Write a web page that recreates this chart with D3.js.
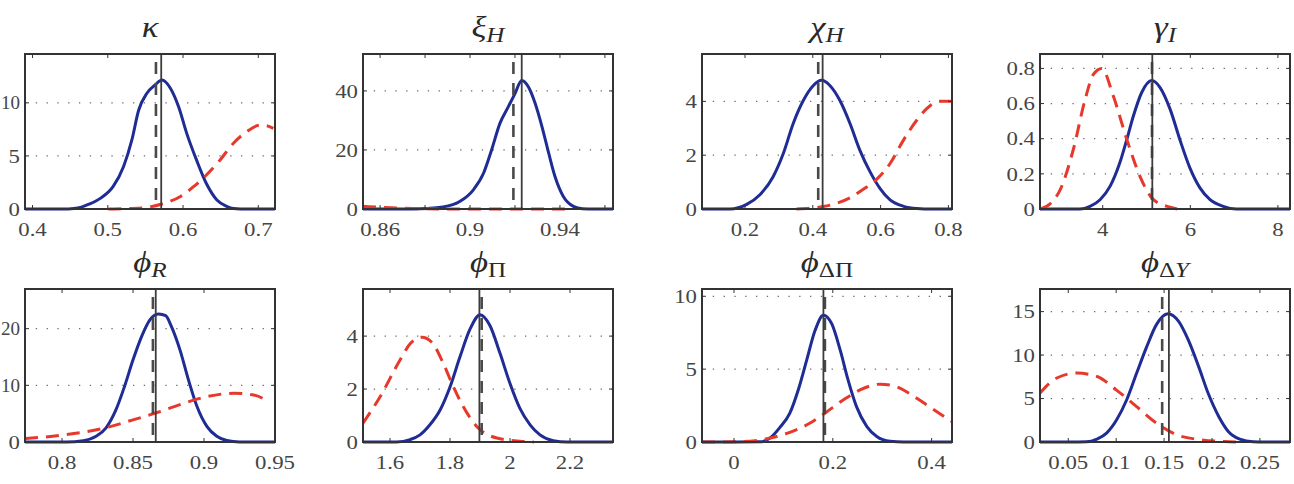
<!DOCTYPE html>
<html><head><meta charset="utf-8">
<script src="https://cdn.jsdelivr.net/npm/d3@7"></script>
<style>body{margin:0;background:#fff}svg{display:block}
text{font-family:"Liberation Serif","Tinos","Times New Roman","DejaVu Serif",serif}</style>
</head><body>
<svg id="c" width="1294" height="484"></svg>
<script>
// ---------- data ----------
const titles = [
  [{t:"κ",it:1}],
  [{t:"ξ",it:1},{t:"H",it:1,sub:1}],
  [{t:"χ",it:1},{t:"H",it:1,sub:1}],
  [{t:"γ",it:1},{t:"I",it:1,sub:1}],
  [{t:"ϕ",it:1},{t:"R",it:1,sub:1}],
  [{t:"ϕ",it:1},{t:"Π",sub:1}],
  [{t:"ϕ",it:1},{t:"ΔΠ",sub:1}],
  [{t:"ϕ",it:1},{t:"Δ",sub:1},{t:"Y",it:1,sub:1}]
];
const xLimits = [[0.390,0.7222],[0.8524,0.9636],[0.0732,0.8106],[2.568,8.276],
                 [0.7739,0.950],[1.51,2.3433],[-0.0648,0.4413],[0.0205,0.2814]];
const yLimits = [[0,14.6],[0,52.5],[0,5.76],[0,0.882],[0,27.0],[0,5.78],[0,10.5],[0,17.6]];
const xTickLabels = [["0.4","0.5","0.6","0.7"],["0.86","0.9","0.94"],["0.2","0.4","0.6","0.8"],["4","6","8"],
                     ["0.8","0.85","0.9","0.95"],["1.6","1.8","2","2.2"],["0","0.2","0.4"],["0.05","0.1","0.15","0.2","0.25"]];
const xMinorTicks = [[],[0.88,0.92,0.96],[],[],[],[],[],[]];
const yTickLabels = [["0","5","10"],["0","20","40"],["0","2","4"],["0","0.2","0.4","0.6","0.8"],
                     ["0","10","20"],["0","2","4"],["0","5","10"],["0","5","10","15"]];
const posterior = [
  [[0.390,0],[0.44,0],[0.455,0.05],[0.465,0.18],[0.475,0.45],[0.490,1.0],[0.507,2.1],[0.521,4.0],[0.532,6.5],[0.541,9.3],[0.552,10.9],[0.563,11.7],[0.572,12.15],[0.583,11.4],[0.594,9.65],[0.605,7.1],[0.618,4.6],[0.631,2.4],[0.645,0.85],[0.658,0.25],[0.667,0.05],[0.685,0],[0.7222,0]],
  [[0.8524,0],[0.870,0],[0.878,0.1],[0.888,0.7],[0.8956,2.6],[0.9015,6.5],[0.906,12.1],[0.9096,20.0],[0.9133,29.0],[0.917,34.6],[0.920,39.1],[0.923,43.5],[0.926,41.3],[0.929,35.7],[0.932,27.9],[0.935,18.9],[0.9378,11.0],[0.9415,4.25],[0.946,0.9],[0.950,0.1],[0.955,0],[0.9636,0]],
  [[0.0732,0],[0.156,0],[0.205,0.17],[0.244,0.53],[0.283,1.2],[0.313,2.06],[0.342,3.17],[0.372,4.03],[0.401,4.58],[0.426,4.78],[0.451,4.58],[0.480,4.03],[0.510,3.17],[0.539,2.18],[0.569,1.38],[0.598,0.77],[0.628,0.34],[0.668,0.1],[0.707,0.02],[0.75,0],[0.8106,0]],
  [[2.568,0],[3.48,0],[3.71,0.015],[3.94,0.053],[4.17,0.13],[4.39,0.263],[4.55,0.396],[4.70,0.529],[4.89,0.663],[5.12,0.731],[5.31,0.691],[5.54,0.567],[5.76,0.396],[5.99,0.234],[6.22,0.12],[6.45,0.053],[6.75,0.015],[7.05,0],[8.276,0]],
  [[0.7739,0],[0.803,0],[0.815,0.23],[0.824,1.0],[0.831,2.5],[0.838,5.7],[0.844,9.8],[0.850,14.5],[0.856,18.6],[0.862,21.6],[0.868,22.6],[0.873,22.3],[0.877,20.4],[0.883,16.3],[0.889,11.0],[0.895,6.3],[0.902,2.75],[0.909,1.0],[0.916,0.25],[0.925,0],[0.950,0]],
  [[1.51,0],[1.622,0],[1.667,0.09],[1.70,0.27],[1.733,0.65],[1.767,1.21],[1.80,2.08],[1.833,3.21],[1.867,4.27],[1.90,4.81],[1.933,4.40],[1.967,3.34],[2.0,2.21],[2.033,1.27],[2.067,0.65],[2.10,0.27],[2.144,0.05],[2.19,0],[2.3433,0]],
  [[-0.0648,0],[0.0,0],[0.053,0.01],[0.073,0.27],[0.093,1.0],[0.113,1.98],[0.130,3.57],[0.147,5.6],[0.164,7.65],[0.181,8.7],[0.198,8.1],[0.215,6.3],[0.231,4.25],[0.248,2.43],[0.269,1.06],[0.289,0.38],[0.316,0.05],[0.343,0],[0.4413,0]],
  [[0.0205,0],[0.052,0],[0.069,0.02],[0.080,0.34],[0.090,1.03],[0.1005,2.56],[0.111,4.86],[0.1214,7.93],[0.132,11.0],[0.142,13.5],[0.154,14.75],[0.165,13.9],[0.175,11.8],[0.186,8.7],[0.196,5.6],[0.207,2.94],[0.217,1.22],[0.229,0.34],[0.243,0.03],[0.255,0],[0.2814,0]]
];
const prior = [
  [[0.5007,0],[0.534,0.05],[0.552,0.15],[0.572,0.47],[0.596,1.16],[0.614,2.1],[0.631,3.2],[0.649,4.6],[0.667,6.2],[0.685,7.3],[0.702,7.9],[0.711,7.85],[0.720,7.6]],
  [[0.8524,0.9],[0.86,0.6],[0.87,0.25],[0.88,0.08],[0.89,0.02],[0.90,0],[0.945,0]],
  [[0.352,0],[0.431,0.09],[0.470,0.21],[0.510,0.42],[0.549,0.73],[0.588,1.1],[0.628,1.69],[0.667,2.55],[0.706,3.29],[0.746,3.84],[0.775,4.0],[0.8106,4.0]],
  [[2.568,0],[2.8,0.03],[3.03,0.11],[3.33,0.34],[3.60,0.625],[3.79,0.767],[3.98,0.80],[4.24,0.644],[4.55,0.396],[4.85,0.186],[5.16,0.053],[5.54,0.01],[5.7,0]],
  [[0.7739,0.6],[0.803,1.3],[0.827,2.3],[0.850,3.9],[0.867,5.2],[0.883,6.6],[0.902,8.0],[0.921,8.6],[0.935,8.3],[0.945,7.2]],
  [[1.51,0.71],[1.567,1.71],[1.633,3.09],[1.667,3.71],[1.706,3.96],[1.739,3.77],[1.778,2.96],[1.811,2.09],[1.844,1.34],[1.889,0.59],[1.956,0.15],[2.033,0.03],[2.08,0]],
  [[-0.0648,0],[-0.035,0],[0.032,0.05],[0.073,0.27],[0.113,0.66],[0.154,1.3],[0.184,1.98],[0.221,2.88],[0.255,3.57],[0.296,3.97],[0.329,3.79],[0.37,3.0],[0.41,2.09],[0.4413,1.4]],
  [[0.0205,5.63],[0.038,7.36],[0.059,7.93],[0.080,7.54],[0.1,6.0],[0.121,4.1],[0.142,2.18],[0.163,0.84],[0.188,0.26],[0.212,0.05],[0.23,0]]
];
const solidLineX  = [0.571, 0.923, 0.429, 5.132, 0.866, 1.898, 0.181, 0.155];
const dashedLineX = [0.564, 0.9193, 0.416, 5.125, 0.864, 1.9056, 0.184, 0.148];

// ---------- layout ----------
const colLeft = [25, 363, 702, 1040], colW = 250;
const rowTop = [54, 289], rowBottom = [209, 442];
const SX = 1.2; // horizontal text stretch
const BLUE = "#1f2c94", RED = "#e6382b", AX = "#333";

const svg = d3.select("#c");
svg.append("rect").attr("width",1294).attr("height",484).attr("fill","#fff");

titles.forEach((title, i) => {
  const c = i % 4, r = Math.floor(i / 4);
  const x0 = colLeft[c], x1 = colLeft[c] + colW, y0 = rowTop[r], y1 = rowBottom[r];
  const x = d3.scaleLinear().domain(xLimits[i]).range([x0, x1]);
  const y = d3.scaleLinear().domain(yLimits[i]).range([y1, y0]);
  const g = svg.append("g");

  const clipId = "clip" + i;
  svg.append("clipPath").attr("id", clipId).append("rect")
    .attr("x", x0).attr("y", y0 - 2).attr("width", colW).attr("height", y1 - y0 + 4);

  const yt = yTickLabels[i].map(Number);
  const xt = xTickLabels[i].map(Number);

  // dotted y grid
  g.selectAll(".grid").data(yt.filter(v => v > 0)).join("line")
    .attr("x1", x0).attr("x2", x1).attr("y1", d => y(d)).attr("y2", d => y(d))
    .attr("stroke", "#6a6a6a").attr("stroke-width", 1.2).attr("stroke-dasharray", "1.3,9.5");

  const line = d3.line().x(d => x(d[0])).y(d => y(d[1])).curve(d3.curveMonotoneX);
  const cg = g.append("g").attr("clip-path", `url(#${clipId})`);
  cg.append("path").attr("d", line(posterior[i])).attr("fill", "none")
    .attr("stroke", BLUE).attr("stroke-width", 3).attr("stroke-linejoin", "round");
  cg.append("path").attr("d", line(prior[i])).attr("fill", "none")
    .attr("stroke", RED).attr("stroke-width", 3).attr("stroke-dasharray", "13,8");
  cg.append("line").attr("x1", x(dashedLineX[i])).attr("x2", x(dashedLineX[i]))
    .attr("y1", y0).attr("y2", y1).attr("stroke", "#4a4a4a").attr("stroke-width", 2.6)
    .attr("stroke-dasharray", "12,9").attr("stroke-dashoffset", -8);
  cg.append("line").attr("x1", x(solidLineX[i])).attr("x2", x(solidLineX[i]))
    .attr("y1", y0).attr("y2", y1).attr("stroke", "#3c3c3c").attr("stroke-width", 1.8);

  // box
  g.append("rect").attr("x", x0).attr("y", y0).attr("width", colW).attr("height", y1 - y0)
    .attr("fill", "none").attr("stroke", AX).attr("stroke-width", 2);

  // inward ticks
  const tl = 4;
  xt.concat(xMinorTicks[i]).forEach(v => {
    g.append("line").attr("x1", x(v)).attr("x2", x(v)).attr("y1", y1).attr("y2", y1 - tl).attr("stroke", AX);
    g.append("line").attr("x1", x(v)).attr("x2", x(v)).attr("y1", y0).attr("y2", y0 + tl).attr("stroke", AX);
  });
  yt.forEach(v => {
    g.append("line").attr("x1", x0).attr("x2", x0 + tl).attr("y1", y(v)).attr("y2", y(v)).attr("stroke", AX);
    g.append("line").attr("x1", x1).attr("x2", x1 - tl).attr("y1", y(v)).attr("y2", y(v)).attr("stroke", AX);
  });

  // tick labels
  xTickLabels[i].forEach(s => {
    g.append("text").attr("transform", `translate(${x(+s)},${y1 + 27}) scale(${SX},1)`)
      .attr("text-anchor", "middle").attr("font-size", 19)
      .attr("fill", "#454545").text(s);
  });
  yTickLabels[i].forEach(s => {
    const t = g.append("text").attr("text-anchor", "end").attr("dy", "0.35em").attr("font-size", 19)
      .attr("fill", "#454545").text(s);
    const w = t.node().getComputedTextLength();
    const xr = x0 - 5;
    const sx = Math.min(SX, (xr - 1) / w);  // keep label inside the page
    t.attr("transform", `translate(${xr},${y(+s)}) scale(${sx},1)`);
  });

  // title
  const tt = g.append("text").attr("transform", `translate(${(x0 + x1) / 2},${y0 - 17}) scale(${SX},1)`)
    .attr("text-anchor", "middle").attr("fill", "#2a2a2a");
  let subbed = false;
  title.forEach(p => {
    const ts = tt.append("tspan").text(p.t).attr("font-size", p.sub ? 21 : 29)
      .attr("font-style", p.it ? "italic" : "normal");
    if (p.sub && !subbed) { ts.attr("dy", 5); subbed = true; }
  });
});
</script>
</body></html>
